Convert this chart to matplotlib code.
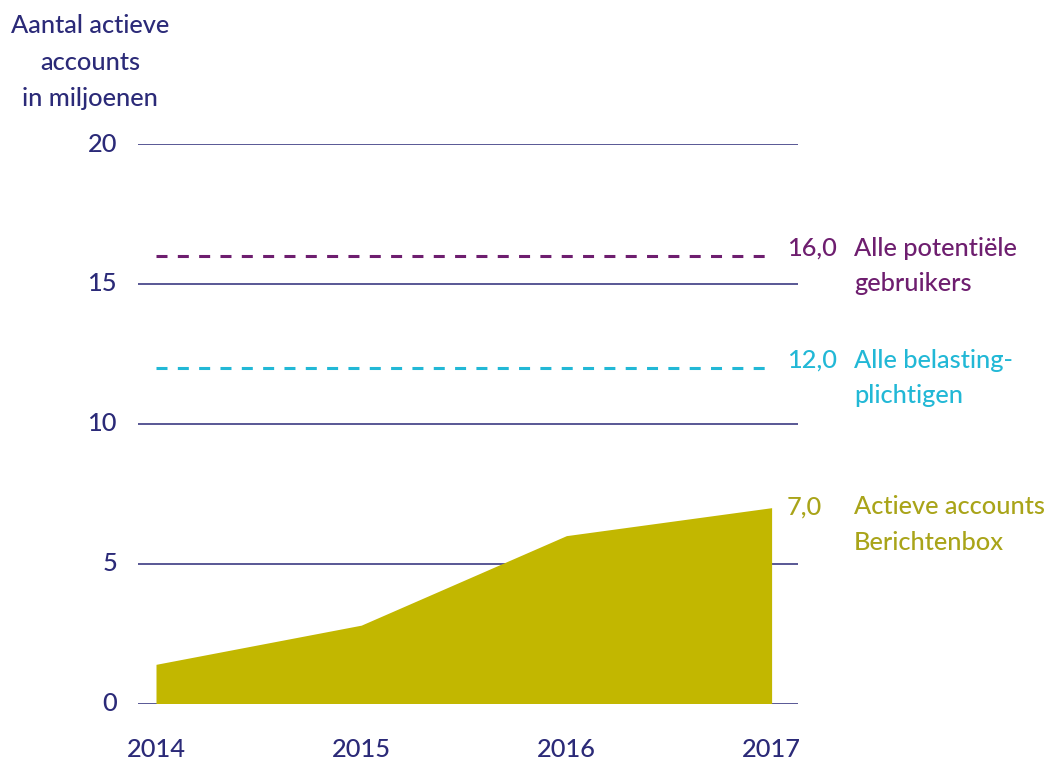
import matplotlib
matplotlib.use("Agg")
import matplotlib.pyplot as plt

years = [2014, 2015, 2016, 2017]
active_accounts = [1.4, 2.8, 6.0, 7.0]
ref_values = [16.0, 12.0]
ref_labels = ["Alle potentiële\ngebruikers", "Alle belasting-\nplichtigen"]
active_label = "Actieve accounts\nBerichtenbox"
y_ticks = [0, 5, 10, 15, 20]
y_title = "Aantal actieve\naccounts\nin miljoenen"

navy = "#2B2A78"
purple = "#6E1E6F"
cyan = "#22B8D6"
olive_fill = "#C2B700"
olive_text = "#A9A419"

plt.rcParams['font.family'] = ['Lato', 'DejaVu Sans']
fw = 'medium'

W, H = 1051, 762
fig = plt.figure(figsize=(W / 100, H / 100), dpi=100)
left_px, right_px = 138, 798
top_px, bot_px = 144, 703.5
ax = fig.add_axes([left_px / W, 1 - bot_px / H, (right_px - left_px) / W, (bot_px - top_px) / H])

step = 205.2
x0 = 2014 - (156 - left_px) / step
x1 = x0 + (right_px - left_px) / step
ax.set_xlim(x0, x1)
ax.set_ylim(0, 20)

for t in y_ticks:
    ax.axhline(t, color=navy, lw=1.1, zorder=1)

ax.fill_between(years, active_accounts, 0, color=olive_fill, lw=0, zorder=2)

dash_end = 2014 + (766 - 156) / step
for v, c in zip(ref_values, [purple, cyan]):
    ax.plot([2014, dash_end], [v, v], color=c, lw=2.2, dashes=(3.6, 3.38), zorder=3,
            solid_capstyle='butt', dash_capstyle='butt')

for sp in ax.spines.values():
    sp.set_visible(False)
ax.set_xticks([])
ax.set_yticks([])

fs = 18.3
for t in y_ticks:
    ax.annotate(str(t), xy=(0, t), xycoords=('axes fraction', 'data'),
                xytext=(-21 * 0.72, 0), textcoords='offset points',
                ha='right', va='center', fontsize=fs, color=navy, fontweight=fw)

for yr in years:
    ax.annotate(str(yr), xy=(yr, 0), xycoords='data',
                xytext=(0, -46 * 0.72), textcoords='offset points',
                ha='center', va='center', fontsize=fs, color=navy, fontweight=fw)

fig.text(90 / W, 1 - 62 / H, y_title, ha='center', va='center', fontsize=fs,
         color=navy, linespacing=1.7, fontweight=fw)

val_x = 787 / W
lab_x = 854 / W
ls = 1.66
for v, lab, c in zip(ref_values, ref_labels, [purple, cyan]):
    ypx = bot_px - v * (bot_px - top_px) / 20
    fig.text(val_x, 1 - (ypx - 8) / H, f"{v:.1f}".replace('.', ','), ha='left', va='center',
             fontsize=fs, color=c, fontweight=fw)
    fig.text(lab_x, 1 - (ypx + 10) / H, lab, ha='left', va='center', fontsize=fs,
             color=c, linespacing=ls, fontweight=fw)

ypx7 = bot_px - active_accounts[-1] * (bot_px - top_px) / 20
fig.text(val_x, 1 - (ypx7 - 1) / H, f"{active_accounts[-1]:.1f}".replace('.', ','),
         ha='left', va='center', fontsize=fs, color=olive_text, fontweight=fw)
fig.text(lab_x, 1 - (ypx7 + 17) / H, active_label, ha='left', va='center', fontsize=fs,
         color=olive_text, linespacing=ls, fontweight=fw)

fig.savefig("out.png", dpi=100)
